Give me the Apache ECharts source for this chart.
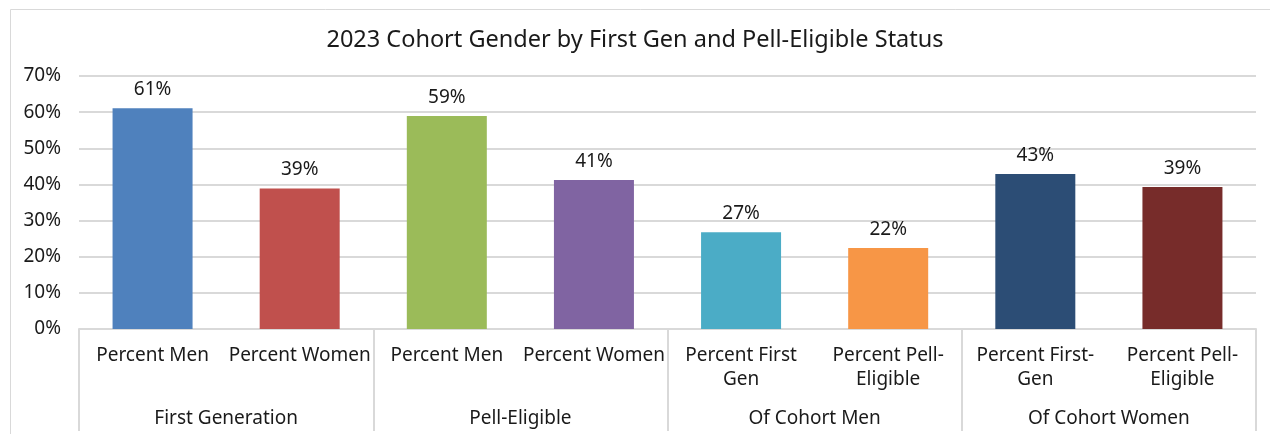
<!DOCTYPE html>
<html>
<head>
<meta charset="utf-8">
<script src="https://cdn.jsdelivr.net/npm/echarts@6/dist/echarts.min.js"></script>
<style>
html,body{margin:0;padding:0;background:#fff;}
#chart{width:1270px;height:434px;}
</style>
</head>
<body>
<div id="chart"></div>
<script>
const title = '2023 Cohort Gender by First Gen and Pell-Eligible Status';
const categories = ['Percent Men', 'Percent Women', 'Percent Men', 'Percent Women',
  'Percent First\nGen', 'Percent Pell-\nEligible', 'Percent First-\nGen', 'Percent Pell-\nEligible'];
const groups = ['First Generation', 'Pell-Eligible', 'Of Cohort Men', 'Of Cohort Women'];
const values = [61.1, 38.9, 58.9, 41.2, 26.8, 22.4, 42.9, 39.3];
const valueLabels = ['61%', '39%', '59%', '41%', '27%', '22%', '43%', '39%'];
const barColors = ['#4F81BD', '#C0504D', '#9BBB59', '#8064A2', '#4BACC6', '#F79646', '#2C4D75', '#772C2A'];

const FONT = '"Noto Sans", "Open Sans", sans-serif';
const chart = echarts.init(document.getElementById('chart'), null, {renderer: 'canvas'});
chart.setOption({
  animation: false,
  textStyle: {fontFamily: FONT},
  graphic: [{
    type: 'rect', left: 8, top: 7, z: -10, silent: true,
    shape: {width: 1275, height: 440},
    style: {fill: 'none', stroke: '#d9d9d9', lineWidth: 1}
  }],
  title: {
    text: title, left: 'center', top: 23,
    textStyle: {fontFamily: FONT, fontSize: 23.5, fontWeight: 'normal', color: '#1a1a1a'}
  },
  grid: {left: 79, right: 14, top: 76, bottom: 105, containLabel: false},
  xAxis: [{
    type: 'category', data: categories, position: 'bottom',
    axisLine: {show: true, lineStyle: {color: '#d9d9d9', width: 2}},
    axisTick: {show: false},
    axisLabel: {interval: 0, color: '#1a1a1a', fontSize: 19, margin: 15, lineHeight: 24, fontFamily: FONT}
  }, {
    type: 'category', data: groups, position: 'bottom',
    axisLine: {show: false},
    axisTick: {show: true, length: 102, lineStyle: {color: '#d9d9d9', width: 2}},
    axisLabel: {interval: 0, color: '#1a1a1a', fontSize: 19, margin: 80, fontFamily: FONT}
  }],
  yAxis: {
    type: 'value', min: 0, max: 70, interval: 10,
    axisLine: {show: false}, axisTick: {show: false},
    splitLine: {lineStyle: {color: '#d9d9d9', width: 2}},
    axisLabel: {formatter: '{value}%', color: '#1a1a1a', fontSize: 19, margin: 18, fontFamily: FONT}
  },
  series: [{
    type: 'bar', xAxisIndex: 0,
    data: values.map((v, i) => ({value: v, itemStyle: {color: barColors[i]}})),
    barWidth: 80,
    label: {
      show: true, position: 'top', distance: 9, fontSize: 19, color: '#1a1a1a', fontFamily: FONT,
      formatter: p => valueLabels[p.dataIndex]
    }
  }]
});
</script>
</body>
</html>
